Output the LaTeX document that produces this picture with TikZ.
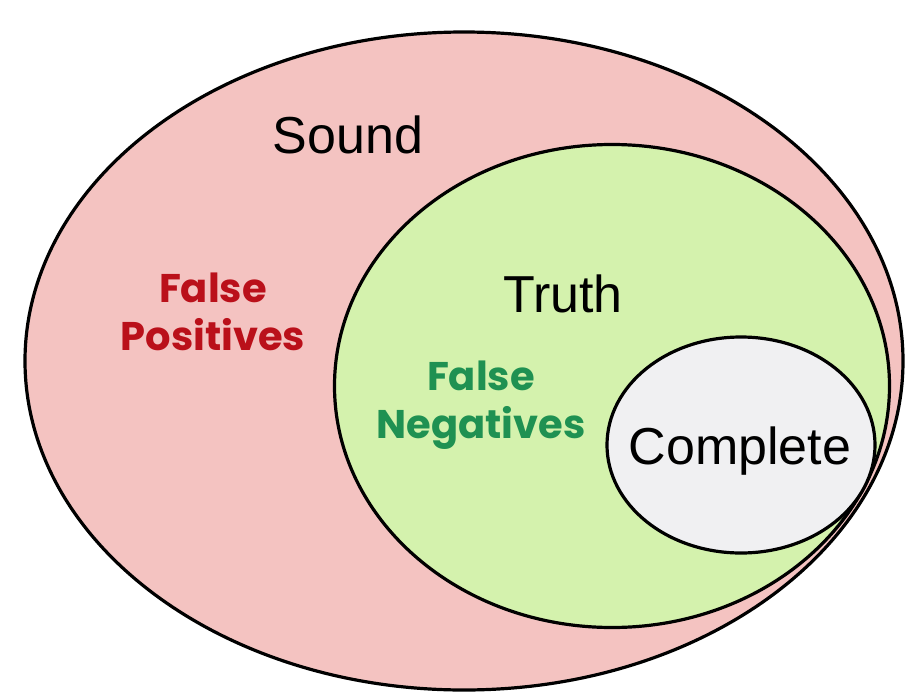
\documentclass[tikz,border=0pt]{standalone}
\usepackage{fontspec}
\setmainfont{Liberation Sans}
\newfontfamily\comicfont{Poppins}
\usetikzlibrary{shapes.geometric}
\definecolor{soundpink}{HTML}{F4C3C1}
\definecolor{truthgreen}{HTML}{D4F2AD}
\definecolor{completegrey}{HTML}{F0F0F2}
\definecolor{fpred}{HTML}{BA101A}
\definecolor{fngreen}{HTML}{1F9152}
\tikzstyle{region} = [ellipse, draw=black, line width=3.2pt, inner sep=0pt]
\tikzstyle{setname} = [font=\fontsize{52}{60}\selectfont, anchor=base]
\tikzstyle{errorname} = [font=\comicfont\bfseries\fontsize{40}{48}\selectfont, align=center, anchor=center]
\begin{document}
\begin{tikzpicture}[x=1pt, y=-1pt]
\useasboundingbox (0,0) rectangle (919,699);

\node (sound) [region, fill=soundpink, minimum width=878pt, minimum height=658pt] at (464,361) {};
\node (truth) [region, fill=truthgreen, minimum width=555pt, minimum height=483pt] at (612,386) {};
\node (complete) [region, fill=completegrey, minimum width=268pt, minimum height=216pt] at (741,445) {};

\node (soundlabel) [setname] at (348,153) {Sound};
\node (truthlabel) [setname] at (563,312) {Truth};
\node (completelabel) [setname] at (740,464) {Complete};

\node (fplabel) [errorname, text=fpred] at (213,312) {False\\Positives};
\node (fnlabel) [errorname, text=fngreen] at (481,405) {False\\Negatives};
\end{tikzpicture}
\end{document}
